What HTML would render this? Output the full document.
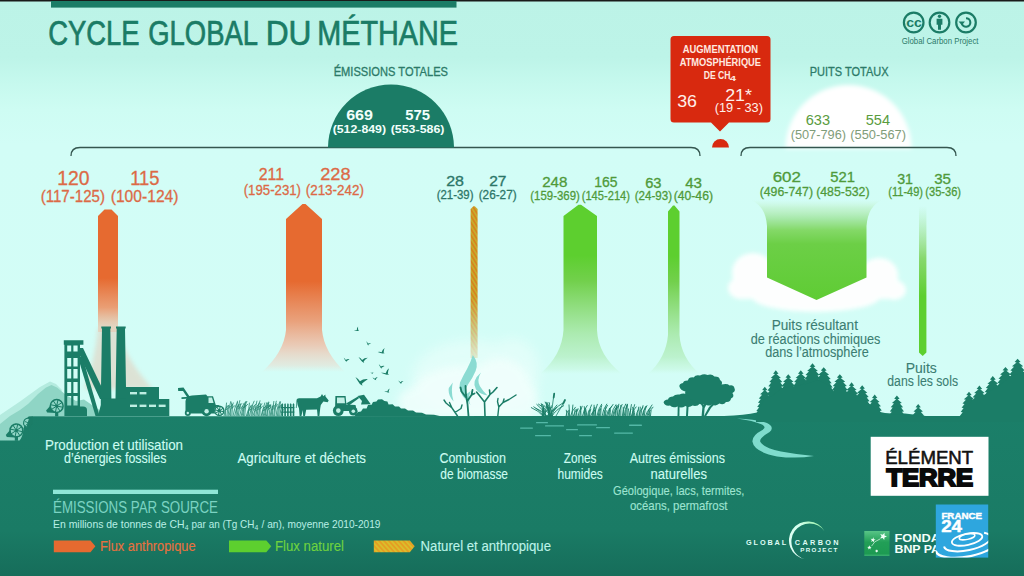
<!DOCTYPE html>
<html><head><meta charset="utf-8"><title>Cycle global du méthane</title>
<style>
html,body{margin:0;padding:0;background:#d2fdf6;}
body{width:1024px;height:576px;overflow:hidden;font-family:"Liberation Sans",sans-serif;}
svg{display:block;font-family:"Liberation Sans",sans-serif;}
</style></head><body>
<svg width="1024" height="576" viewBox="0 0 1024 576">
<defs>
<linearGradient id="sky" x1="0" y1="0" x2="0" y2="1">
<stop offset="0" stop-color="#bcf3e7"/><stop offset="0.1" stop-color="#bdf4e8"/><stop offset="0.145" stop-color="#c6f9ee"/><stop offset="0.19" stop-color="#cefcf3"/><stop offset="0.25" stop-color="#d2fdf6"/><stop offset="1" stop-color="#d4fdf7"/>
</linearGradient>
<linearGradient id="gnd" x1="0" y1="0" x2="0" y2="1">
<stop offset="0" stop-color="#1b7f69"/><stop offset="0.72" stop-color="#1a7b65"/><stop offset="1" stop-color="#166d5a"/>
</linearGradient>
<linearGradient id="og" x1="0" y1="0" x2="0" y2="1">
<stop offset="0" stop-color="#e66a30"/><stop offset="0.56" stop-color="#e66a30"/><stop offset="0.8" stop-color="#ec9466" stop-opacity="0.9"/><stop offset="1" stop-color="#f2b697" stop-opacity="0.35"/>
</linearGradient>
<linearGradient id="og2" x1="0" y1="0" x2="0" y2="1">
<stop offset="0" stop-color="#e66a30"/><stop offset="0.46" stop-color="#e66a30"/><stop offset="0.7" stop-color="#eb9a72" stop-opacity="0.92"/><stop offset="0.84" stop-color="#f0bca4" stop-opacity="0.78"/><stop offset="0.96" stop-color="#f3d0c0" stop-opacity="0.4"/><stop offset="1" stop-color="#f4d8c8" stop-opacity="0"/>
</linearGradient>
<linearGradient id="gg" x1="0" y1="0" x2="0" y2="1">
<stop offset="0" stop-color="#5dcf2f"/><stop offset="0.3" stop-color="#5dcf2f"/><stop offset="0.45" stop-color="#72d04c"/><stop offset="0.6" stop-color="#8cdc78" stop-opacity="0.95"/><stop offset="0.76" stop-color="#a6e8a6" stop-opacity="0.88"/><stop offset="0.9" stop-color="#b4eec0" stop-opacity="0.75"/><stop offset="0.97" stop-color="#c0f4d0" stop-opacity="0.4"/><stop offset="1" stop-color="#c8f8dc" stop-opacity="0"/>
</linearGradient>
<linearGradient id="sinkg" x1="0" y1="0" x2="0" y2="1">
<stop offset="0" stop-color="#c8f4d0" stop-opacity="0"/><stop offset="0.08" stop-color="#bcf0c4" stop-opacity="0.65"/><stop offset="0.2" stop-color="#9ee49a" stop-opacity="0.92"/><stop offset="0.3" stop-color="#84d968"/><stop offset="0.44" stop-color="#6ccf46"/><stop offset="1" stop-color="#5fcc34"/>
</linearGradient>
<linearGradient id="thing" x1="0" y1="0" x2="0" y2="1">
<stop offset="0" stop-color="#9be08a" stop-opacity="0"/><stop offset="0.35" stop-color="#7fd45e" stop-opacity="0.9"/><stop offset="0.6" stop-color="#5dcf2f"/><stop offset="1" stop-color="#5dcf2f"/>
</linearGradient>
<pattern id="stripe" width="4" height="3.4" patternUnits="userSpaceOnUse" patternTransform="rotate(58)">
<rect width="4" height="3.4" fill="#c6ac2e"/><rect width="4" height="1.7" fill="#d6841e"/>
</pattern>
<linearGradient id="strfade" x1="0" y1="0" x2="0" y2="1">
<stop offset="0" stop-color="#fff"/><stop offset="0.62" stop-color="#fff"/><stop offset="1" stop-color="#fff" stop-opacity="0.2"/>
</linearGradient>
<mask id="strmask"><rect x="465" y="200" width="20" height="158" fill="url(#strfade)"/></mask>
<pattern id="stripe2" width="4" height="3.6" patternUnits="userSpaceOnUse" patternTransform="rotate(48)">
<rect width="4" height="3.6" fill="#d9be2c"/><rect width="4" height="1.7" fill="#e69c22"/>
</pattern>
<clipPath id="f24clip"><rect x="935.8" y="504.5" width="52.4" height="53.1"/></clipPath>
<linearGradient id="gcpg" x1="0" y1="1" x2="1" y2="0"><stop offset="0" stop-color="#e6fff8"/><stop offset="0.6" stop-color="#d4ffee"/><stop offset="1" stop-color="#8ef09a"/></linearGradient>
<linearGradient id="bnpg" x1="0" y1="0" x2="0" y2="1"><stop offset="0" stop-color="#58c587"/><stop offset="0.45" stop-color="#229f57"/><stop offset="0.9" stop-color="#1d9a52"/><stop offset="1" stop-color="#3bb070"/></linearGradient>
<filter id="b2"><feGaussianBlur stdDeviation="2"/></filter>
<filter id="b4"><feGaussianBlur stdDeviation="4"/></filter>
<filter id="b6"><feGaussianBlur stdDeviation="6"/></filter>
<filter id="b1"><feGaussianBlur stdDeviation="0.8"/></filter>
</defs>
<rect width="1024" height="576" fill="url(#sky)"/>

<rect x="0" y="0" width="1024" height="1.5" fill="#1a1a1a"/>
<rect x="51" y="1" width="405.5" height="6.6" fill="#1b7c66"/>
<text x="48.2" y="45.4" font-size="35.2" fill="#1b7c66" font-weight="normal" textLength="91.3" lengthAdjust="spacingAndGlyphs" stroke="#1b7c66" stroke-width="0.7">CYCLE</text>
<text x="148.2" y="45.4" font-size="35.2" fill="#1b7c66" font-weight="normal" textLength="109.8" lengthAdjust="spacingAndGlyphs" stroke="#1b7c66" stroke-width="0.7">GLOBAL</text>
<text x="265.7" y="45.4" font-size="35.2" fill="#1b7c66" font-weight="normal" textLength="45.8" lengthAdjust="spacingAndGlyphs" stroke="#1b7c66" stroke-width="0.7">DU</text>
<text x="317.2" y="45.4" font-size="35.2" fill="#1b7c66" font-weight="normal" textLength="140.8" lengthAdjust="spacingAndGlyphs" stroke="#1b7c66" stroke-width="0.7">MÉTHANE</text>
<g filter="url(#b2)"><path d="M785.5 148.5 A63 63.5 0 0 1 911.5 148.5 Z" fill="#ffffff"/></g>
<g filter="url(#b2)" fill="#ffffff" opacity="0.96">
<ellipse cx="753" cy="273" rx="21" ry="20"/><ellipse cx="741" cy="288" rx="13" ry="11"/>
<ellipse cx="816" cy="297" rx="64" ry="15"/><ellipse cx="879" cy="275" rx="19" ry="17"/>
<ellipse cx="894" cy="290" rx="12" ry="10"/><rect x="738" y="275" width="160" height="24"/>
</g>
<g filter="url(#b6)" fill="#f0fffc" opacity="0.5">
<ellipse cx="472" cy="378" rx="60" ry="38"/><ellipse cx="512" cy="372" rx="28" ry="34"/>
</g>
<g filter="url(#b4)" fill="#f3fffd" opacity="0.8">
<ellipse cx="462" cy="392" rx="48" ry="26"/><ellipse cx="500" cy="386" rx="30" ry="28"/><ellipse cx="425" cy="401" rx="27" ry="16"/>
<ellipse cx="523" cy="400" rx="15" ry="18"/><rect x="402" y="400" width="132" height="18"/>
</g>
<g fill="none" stroke="#34564f" stroke-width="1.3">
<path d="M71 156 Q71 147.5 80 147.5 L691 147.5 Q700 147.5 700 156"/>
<path d="M741 156 Q741 147.5 750 147.5 L947 147.5 Q956 147.5 956 156"/>
</g>
<path d="M328 147.5 A63 63 0 0 1 454 147.5 Z" fill="#1b7c66"/>
<text x="333.7" y="76.0" font-size="12.6" fill="#2c7a68" font-weight="normal" textLength="114.3" lengthAdjust="spacingAndGlyphs" stroke="#2c7a68" stroke-width="0.3">ÉMISSIONS TOTALES</text>
<text x="346.2" y="119.5" font-size="14" fill="#f2fffb" font-weight="bold" textLength="26.8" lengthAdjust="spacingAndGlyphs" >669</text>
<text x="332.7" y="133.0" font-size="11.8" fill="#f2fffb" font-weight="bold" textLength="53.3" lengthAdjust="spacingAndGlyphs" >(512-849)</text>
<text x="405.2" y="119.5" font-size="14" fill="#f2fffb" font-weight="bold" textLength="24.8" lengthAdjust="spacingAndGlyphs" >575</text>
<text x="390.7" y="133.0" font-size="11.8" fill="#f2fffb" font-weight="bold" textLength="53.8" lengthAdjust="spacingAndGlyphs" >(553-586)</text>
<path d="M674 36 H767 Q770.5 36 770.5 39.5 V119 Q770.5 122.5 767 122.5 H729 L720 131.5 L711 122.5 H674 Q670.5 122.5 670.5 119 V39.5 Q670.5 36 674 36 Z" fill="#d8290f"/>
<path d="M712 147.5 A8.5 8.5 0 0 1 729 147.5 Z" fill="#d8290f"/>
<text x="682.7" y="52.5" font-size="11" fill="#ffe9e0" font-weight="bold" textLength="75.3" lengthAdjust="spacingAndGlyphs" >AUGMENTATION</text>
<text x="679.7" y="66.0" font-size="11" fill="#ffe9e0" font-weight="bold" textLength="81.3" lengthAdjust="spacingAndGlyphs" >ATMOSPHÉRIQUE</text>
<text x="703.7" y="79.0" font-size="11" fill="#ffe9e0" font-weight="bold" textLength="26.8" lengthAdjust="spacingAndGlyphs" >DE CH</text>
<text x="729.7" y="81.0" font-size="7.5" fill="#ffe9e0" font-weight="bold" textLength="6.3" lengthAdjust="spacingAndGlyphs" >4</text>
<text x="677.2" y="107.0" font-size="17" fill="#fff0ea" font-weight="normal" textLength="19.8" lengthAdjust="spacingAndGlyphs" >36</text>
<text x="725.2" y="100.5" font-size="17" fill="#fff0ea" font-weight="normal" textLength="26.8" lengthAdjust="spacingAndGlyphs" >21*</text>
<text x="714.7" y="112.0" font-size="12" fill="#fff0ea" font-weight="normal" textLength="48.3" lengthAdjust="spacingAndGlyphs" >(19 - 33)</text>
<text x="809.7" y="75.5" font-size="13" fill="#2c7a68" font-weight="normal" textLength="78.8" lengthAdjust="spacingAndGlyphs" stroke="#2c7a68" stroke-width="0.3">PUITS TOTAUX</text>
<text x="805.7" y="125.0" font-size="14" fill="#5a9c3e" font-weight="normal" textLength="24.3" lengthAdjust="spacingAndGlyphs" >633</text>
<text x="790.7" y="138.5" font-size="12.5" fill="#7f9d7a" font-weight="normal" textLength="55.3" lengthAdjust="spacingAndGlyphs" >(507-796)</text>
<text x="865.7" y="125.0" font-size="14" fill="#5a9c3e" font-weight="normal" textLength="24.3" lengthAdjust="spacingAndGlyphs" >554</text>
<text x="850.2" y="138.5" font-size="12.5" fill="#7f9d7a" font-weight="normal" textLength="55.8" lengthAdjust="spacingAndGlyphs" >(550-567)</text>
<g fill="none" stroke="#1b7c66" stroke-width="2.2">
<circle cx="913.7" cy="22.5" r="9.8"/>
<circle cx="939.5" cy="22.5" r="9.8"/>
<circle cx="966" cy="22.5" r="9.8"/>
</g>
<text x="906.2" y="26.5" font-size="12.5" fill="#1b7c66" font-weight="bold" textLength="15.8" lengthAdjust="spacingAndGlyphs" >cc</text>
<circle cx="939.5" cy="16.3" r="1.7" fill="#1b7c66"/><path d="M936.6 18.8 h5.8 v6 h-1.4 v5 h-3 v-5 h-1.4 z" fill="#1b7c66"/>
<path d="M961.8 23.2 A4.3 4.3 0 1 0 966 18.2" fill="none" stroke="#1b7c66" stroke-width="2.1"/><path d="M958.6 21.6 h6.4 l-3.2 3.6 z" fill="#1b7c66"/>
<text x="901.7" y="44.0" font-size="8.6" fill="#2c7a68" font-weight="normal" textLength="76.8" lengthAdjust="spacingAndGlyphs" >Global Carbon Project</text>
<path d="M98 216 L104.5 209.5 L111.5 209.5 L118 216 V332 H98 Z" fill="url(#og)"/>
<path d="M98 328 L118 328 Q124 358 153 389 L84 389 Q95 360 98 328 Z" fill="#eeb095" opacity="0.34" filter="url(#b2)"/>
<path d="M286 219 L302.5 204 L305.5 204 L322 219 V330 Q324 352 345 372 L262 372 Q284 352 286 330 Z" fill="url(#og2)"/>
<g mask="url(#strmask)"><path d="M470.6 209 L473.4 206.2 L474.8 206.2 L477.6 209 V358 H470.6 Z" fill="url(#stripe)"/></g>
<path d="M563.5 216 L578.5 204.7 L581 204.7 L597 216 V330 Q598 355 622 374 L540 374 Q562 355 563.5 330 Z" fill="url(#gg)"/>
<path d="M668 211.5 L673 205.6 L674.5 205.6 L679.5 211.5 V335 Q681 358 700 374 L648 374 Q666 358 668 335 Z" fill="url(#gg)"/>
<path d="M751 200 L882 200 Q868 206 866.5 226 V277.5 L816.5 300 L767 277.5 V226 Q765.5 206 751 200 Z" fill="url(#sinkg)"/>
<path d="M919 206 H926.4 V352.5 L922.7 356 L919 352.5 Z" fill="url(#thing)"/>
<text x="57.2" y="184.5" font-size="19.5" fill="#dc6a46" font-weight="normal" textLength="32.3" lengthAdjust="spacingAndGlyphs" stroke="#dc6a46" stroke-width="0.3">120</text>
<text x="40.7" y="202.0" font-size="16.8" fill="#dc6a46" font-weight="normal" textLength="64.3" lengthAdjust="spacingAndGlyphs" stroke="#dc6a46" stroke-width="0.3">(117-125)</text>
<text x="130.2" y="184.5" font-size="19.5" fill="#dc6a46" font-weight="normal" textLength="29.3" lengthAdjust="spacingAndGlyphs" stroke="#dc6a46" stroke-width="0.3">115</text>
<text x="110.7" y="202.0" font-size="16.8" fill="#dc6a46" font-weight="normal" textLength="67.8" lengthAdjust="spacingAndGlyphs" stroke="#dc6a46" stroke-width="0.3">(100-124)</text>
<text x="258.7" y="180.0" font-size="16.8" fill="#dc6a46" font-weight="normal" textLength="25.3" lengthAdjust="spacingAndGlyphs" stroke="#dc6a46" stroke-width="0.3">211</text>
<text x="243.7" y="195.0" font-size="14.7" fill="#dc6a46" font-weight="normal" textLength="57.3" lengthAdjust="spacingAndGlyphs" stroke="#dc6a46" stroke-width="0.3">(195-231)</text>
<text x="320.2" y="180.0" font-size="16.8" fill="#dc6a46" font-weight="normal" textLength="30.3" lengthAdjust="spacingAndGlyphs" stroke="#dc6a46" stroke-width="0.3">228</text>
<text x="305.7" y="195.0" font-size="14.7" fill="#dc6a46" font-weight="normal" textLength="58.3" lengthAdjust="spacingAndGlyphs" stroke="#dc6a46" stroke-width="0.3">(213-242)</text>
<text x="446.2" y="186.0" font-size="14" fill="#2c7668" font-weight="normal" textLength="17.8" lengthAdjust="spacingAndGlyphs" stroke="#2c7668" stroke-width="0.3">28</text>
<text x="436.7" y="198.5" font-size="12.5" fill="#2c7668" font-weight="normal" textLength="36.8" lengthAdjust="spacingAndGlyphs" stroke="#2c7668" stroke-width="0.3">(21-39)</text>
<text x="489.2" y="186.0" font-size="14" fill="#2c7668" font-weight="normal" textLength="17.3" lengthAdjust="spacingAndGlyphs" stroke="#2c7668" stroke-width="0.3">27</text>
<text x="478.7" y="198.5" font-size="12.5" fill="#2c7668" font-weight="normal" textLength="37.9" lengthAdjust="spacingAndGlyphs" stroke="#2c7668" stroke-width="0.3">(26-27)</text>
<text x="542.2" y="187.0" font-size="14.7" fill="#4f9a3a" font-weight="normal" textLength="25.3" lengthAdjust="spacingAndGlyphs" stroke="#4f9a3a" stroke-width="0.3">248</text>
<text x="530.3" y="199.5" font-size="13" fill="#4f9a3a" font-weight="normal" textLength="49.5" lengthAdjust="spacingAndGlyphs" stroke="#4f9a3a" stroke-width="0.3">(159-369)</text>
<text x="594.2" y="187.0" font-size="14.7" fill="#4f9a3a" font-weight="normal" textLength="23.3" lengthAdjust="spacingAndGlyphs" stroke="#4f9a3a" stroke-width="0.3">165</text>
<text x="581.7" y="199.5" font-size="13" fill="#4f9a3a" font-weight="normal" textLength="48.3" lengthAdjust="spacingAndGlyphs" stroke="#4f9a3a" stroke-width="0.3">(145-214)</text>
<text x="645.2" y="188.0" font-size="14" fill="#4f9a3a" font-weight="normal" textLength="16.3" lengthAdjust="spacingAndGlyphs" stroke="#4f9a3a" stroke-width="0.3">63</text>
<text x="634.7" y="200.0" font-size="12.5" fill="#4f9a3a" font-weight="normal" textLength="37.3" lengthAdjust="spacingAndGlyphs" stroke="#4f9a3a" stroke-width="0.3">(24-93)</text>
<text x="685.2" y="188.0" font-size="14" fill="#4f9a3a" font-weight="normal" textLength="16.8" lengthAdjust="spacingAndGlyphs" stroke="#4f9a3a" stroke-width="0.3">43</text>
<text x="673.7" y="200.0" font-size="12.5" fill="#4f9a3a" font-weight="normal" textLength="39.3" lengthAdjust="spacingAndGlyphs" stroke="#4f9a3a" stroke-width="0.3">(40-46)</text>
<text x="772.7" y="181.6" font-size="15.4" fill="#4f9a3a" font-weight="normal" textLength="28.3" lengthAdjust="spacingAndGlyphs" stroke="#4f9a3a" stroke-width="0.3">602</text>
<text x="759.7" y="195.5" font-size="13.3" fill="#4f9a3a" font-weight="normal" textLength="53.3" lengthAdjust="spacingAndGlyphs" stroke="#4f9a3a" stroke-width="0.3">(496-747)</text>
<text x="830.2" y="181.6" font-size="15.4" fill="#4f9a3a" font-weight="normal" textLength="24.8" lengthAdjust="spacingAndGlyphs" stroke="#4f9a3a" stroke-width="0.3">521</text>
<text x="816.2" y="195.5" font-size="13.3" fill="#4f9a3a" font-weight="normal" textLength="53.3" lengthAdjust="spacingAndGlyphs" stroke="#4f9a3a" stroke-width="0.3">(485-532)</text>
<text x="897.2" y="183.6" font-size="14" fill="#4f9a3a" font-weight="normal" textLength="15.8" lengthAdjust="spacingAndGlyphs" stroke="#4f9a3a" stroke-width="0.3">31</text>
<text x="888.3" y="196.0" font-size="12.5" fill="#4f9a3a" font-weight="normal" textLength="34.7" lengthAdjust="spacingAndGlyphs" stroke="#4f9a3a" stroke-width="0.3">(11-49)</text>
<text x="934.2" y="183.6" font-size="14" fill="#4f9a3a" font-weight="normal" textLength="16.8" lengthAdjust="spacingAndGlyphs" stroke="#4f9a3a" stroke-width="0.3">35</text>
<text x="925.3" y="196.0" font-size="12.5" fill="#4f9a3a" font-weight="normal" textLength="35.7" lengthAdjust="spacingAndGlyphs" stroke="#4f9a3a" stroke-width="0.3">(35-36)</text>
<text x="771.7" y="330.0" font-size="14" fill="#3b7d72" font-weight="normal" textLength="86.3" lengthAdjust="spacingAndGlyphs" stroke="#3b7d72" stroke-width="0.1">Puits résultant</text>
<text x="750.7" y="343.7" font-size="14" fill="#3b7d72" font-weight="normal" textLength="129.7" lengthAdjust="spacingAndGlyphs" stroke="#3b7d72" stroke-width="0.1">de réactions chimiques</text>
<text x="765.2" y="357.0" font-size="14" fill="#3b7d72" font-weight="normal" textLength="103.5" lengthAdjust="spacingAndGlyphs" stroke="#3b7d72" stroke-width="0.1">dans l’atmosphère</text>
<text x="905.7" y="373.0" font-size="14" fill="#3b7d72" font-weight="normal" textLength="31.1" lengthAdjust="spacingAndGlyphs" stroke="#3b7d72" stroke-width="0.1">Puits</text>
<text x="887.3" y="386.2" font-size="14" fill="#3b7d72" font-weight="normal" textLength="70.7" lengthAdjust="spacingAndGlyphs" stroke="#3b7d72" stroke-width="0.1">dans les sols</text>
<path d="M0 415 L20 401.5 L40 387 L50 381.5 L56 384 L62 390 L30 441 L0 441 Z" fill="#b4ebdf"/>
<path d="M0 424 L10 416 L20 410 L28 404 L38 394 L46 387.5 L51.5 385 L57 387.5 L66 395 L76 401 L84 399.5 L92 405 L104 413 L110 416 L30 416 L30 441 L0 441 Z" fill="#8fd5c5"/>
<path d="M0 440.6 L19.5 440.6 Q22 438 23 432 Q25 421 28 417.6 Q29.5 416.2 33 416.2 L724 416 Q745 415 757 412.5 L905 413.5 L926 416 L1024 416 L1024 576 L0 576 Z" fill="url(#gnd)"/>
<path d="M56.2 398.90000000000003 L46.1 410.6 L47.1 412.6 L55.7 413.09999999999997 Z" fill="#1b7d67"/><rect x="55.1" y="412.4" width="3.2" height="4" fill="#1b7d67"/>
<circle cx="56.7" cy="406" r="6.4" fill="#8fd5c5"/><g stroke="#1b7d67" fill="none" stroke-width="1.5"><circle cx="56.7" cy="406" r="6.4"/><line x1="50.4" y1="404.7" x2="63.0" y2="407.3" stroke-width="1"/><line x1="53.2" y1="400.7" x2="60.2" y2="411.3" stroke-width="1"/><line x1="58.0" y1="399.7" x2="55.4" y2="412.3" stroke-width="1"/><line x1="62.0" y1="402.5" x2="51.4" y2="409.5" stroke-width="1"/></g><circle cx="56.7" cy="406" r="1.5" fill="#1b7d67"/>
<path d="M15.899999999999999 423.3 L5.799999999999999 435.0 L6.799999999999999 437.0 L15.399999999999999 437.49999999999994 Z" fill="#1b7d67"/><rect x="14.799999999999999" y="436.79999999999995" width="3.2" height="4" fill="#1b7d67"/>
<circle cx="16.4" cy="430.4" r="6.4" fill="#8fd5c5"/><g stroke="#1b7d67" fill="none" stroke-width="1.5"><circle cx="16.4" cy="430.4" r="6.4"/><line x1="10.1" y1="429.1" x2="22.7" y2="431.7" stroke-width="1"/><line x1="12.9" y1="425.1" x2="19.9" y2="435.7" stroke-width="1"/><line x1="17.7" y1="424.1" x2="15.1" y2="436.7" stroke-width="1"/><line x1="21.7" y1="426.9" x2="11.1" y2="433.9" stroke-width="1"/></g><circle cx="16.4" cy="430.4" r="1.5" fill="#1b7d67"/>
<path d="M28.5 416.5 Q26.5 419 25.4 422 L23.6 429 L28.5 429.5 L33 423 L33 416.5 Z" fill="#1b7d67"/>
<path d="M29.6 418.4 A4.6 4.6 0 0 0 27 427.4 Z" fill="#8fd5c5" stroke="#1b7d67" stroke-width="1.2"/>
<path d="M25 421.5 L28.6 423 M25.4 425.6 L28.6 423" stroke="#1b7d67" stroke-width="0.9" fill="none"/>
<path d="M65 416 V410 Q65 406.5 69 406.5 H83 Q87 406.5 87 410 V416 Z" fill="#1b7d67"/>
<path fill-rule="evenodd" d="M63.8 340.3 H83.4 V344.8 H80 V416 H64.4 V344.8 H63.8 Z M67.2 345.5 V351.5 H71.2 V345.5 Z M73.4 345.5 V351.5 H77.6 V345.5 Z M67.2 358 V366.5 H71.2 V358 Z M73.4 358 V366.5 H77.6 V358 Z M67.2 369 V378.5 H71.2 V369 Z M73.4 369 V378.5 H77.6 V369 Z M67.2 382 V393 H71.2 V382 Z M73.4 382 V393 H77.6 V382 Z M67.2 396 V405.5 H71.2 V396 Z M73.4 396 V405.5 H77.6 V396 Z " fill="#1b7d67"/>
<path d="M80 348 L83 348 L104 392 L104 399 L100 399 L80 356 Z" fill="#1b7d67"/>
<path d="M80 357 L82.5 357 L99 414 L99 416 L95.5 416 L80 364 Z" fill="#1b7d67"/>
<path d="M101.3 326.4 H111 V328.6 H110.3 L111.4 399 H100.8 L102 328.6 H101.3 Z" fill="#1b7d67"/>
<path d="M116 326.4 H125.7 V328.6 H125 L126.2 399 H115.5 L116.7 328.6 H116 Z" fill="#1b7d67"/>
<path d="M100.8 398.5 H126 V387 H159 V399 H169.3 V416 H98 L100.8 405 Z" fill="#1b7d67"/>
<rect x="130" y="392" width="7.0" height="2.4" fill="#bdeee2"/>
<rect x="139.6" y="392" width="6.8" height="2.4" fill="#bdeee2"/>
<rect x="130" y="404.6" width="7.0" height="2.4" fill="#bdeee2"/>
<rect x="139.6" y="404.6" width="6.8" height="2.4" fill="#bdeee2"/>
<rect x="149" y="404.6" width="7.0" height="2.4" fill="#bdeee2"/>
<rect x="158.7" y="404.6" width="6.9" height="2.4" fill="#bdeee2"/>
<g fill="#1b7d67"><path d="M178 388 L183.5 387.6 L190.6 398 L188 398.6 L183 391 L178.2 391 Z"/><path d="M181.5 397.2 L190 396.8 L190 398.6 L181.5 399 Z"/><path d="M185.5 401 Q186 396 192 395.4 L206 394.6 L207.5 396.3 L213 396.3 L215.8 405 L219 405 L220 413.6 L185.5 413.6 Z"/><circle cx="187.8" cy="413" r="3"/><circle cx="206.6" cy="411.3" r="5"/></g>
<path d="M208.5 397.6 L212 397.6 L213.6 403 L208.5 403 Z" fill="#c2f0e6"/>
<circle cx="187.8" cy="413" r="1.2" fill="#c2f0e6"/><circle cx="206.6" cy="411.3" r="2.2" fill="#c2f0e6"/>
<circle cx="219.3" cy="410.8" r="5" fill="#c8f3ea"/>
<g stroke="#1b7d67" fill="none" stroke-width="1.4"><circle cx="219.3" cy="410.8" r="4.6"/><line x1="214.8" y1="409.9" x2="223.8" y2="411.7" stroke-width="1"/><line x1="216.8" y1="407.0" x2="221.8" y2="414.6" stroke-width="1"/><line x1="220.2" y1="406.3" x2="218.4" y2="415.3" stroke-width="1"/><line x1="223.1" y1="408.3" x2="215.5" y2="413.3" stroke-width="1"/></g><circle cx="219.3" cy="410.8" r="1.5" fill="#1b7d67"/>
<g stroke="#1b7d67" stroke-width="0.8" fill="none" opacity="0.92"><path d="M224.0 416 Q225.0 409.6 227.2 405.3"/><path d="M225.6 410.1 L229.2 407.5"/><path d="M225.3 416 Q225.7 408.0 226.6 402.6"/><path d="M226.0 408.6 L228.6 405.3"/><path d="M226.8 416 Q227.4 409.5 228.7 405.2"/><path d="M228.0 416 Q228.9 407.1 230.9 401.1"/><path d="M229.5 407.8 L232.9 404.1"/><path d="M229.0 416 Q230.4 407.9 233.5 402.6"/><path d="M231.3 408.6 L235.5 405.2"/><path d="M230.5 416 Q230.8 407.8 231.7 402.3"/><path d="M231.8 416 Q232.1 409.3 232.9 404.9"/><path d="M233.0 416 Q234.4 407.6 237.5 402.0"/><path d="M234.6 416 Q235.8 408.9 238.8 404.2"/><path d="M236.7 409.5 L240.8 406.6"/><path d="M236.1 416 Q236.5 406.9 237.5 400.8"/><path d="M236.8 407.7 L239.5 403.9"/><path d="M237.2 416 Q238.0 406.5 239.9 400.2"/><path d="M238.5 407.3 L241.9 403.4"/><path d="M238.3 416 Q239.0 408.5 240.8 403.4"/><path d="M239.5 409.1 L242.8 406.0"/><path d="M239.6 416 Q241.0 408.1 244.2 402.9"/><path d="M241.9 408.8 L246.2 405.5"/><path d="M241.1 416 Q242.6 407.0 246.1 401.0"/><path d="M243.6 407.8 L248.1 404.0"/><path d="M242.1 416 Q243.6 407.0 247.0 401.0"/><path d="M243.4 416 Q244.0 407.6 245.3 402.0"/><path d="M244.7 416 Q245.1 409.4 246.0 405.0"/><path d="M246.3 416 Q247.6 410.2 250.5 406.4"/><path d="M248.4 410.7 L252.5 408.3"/><path d="M247.3 416 Q248.6 409.4 251.4 404.9"/><path d="M248.3 416 Q248.6 408.0 249.5 402.7"/><path d="M249.4 416 Q250.9 406.9 254.3 400.8"/><path d="M251.9 407.7 L256.3 403.9"/><path d="M251.0 416 Q251.4 409.3 252.3 404.8"/><path d="M251.7 409.9 L254.3 407.1"/><path d="M251.9 416 Q252.7 409.8 254.6 405.6"/><path d="M253.2 410.3 L256.6 407.7"/><path d="M252.9 416 Q254.3 410.4 257.4 406.7"/><path d="M255.2 410.9 L259.4 408.6"/><path d="M254.5 416 Q255.3 406.8 257.0 400.7"/><path d="M255.8 407.6 L259.0 403.8"/><path d="M255.8 416 Q256.8 407.9 259.2 402.5"/><path d="M257.5 408.6 L261.2 405.2"/><path d="M257.1 416 Q258.0 406.6 260.1 400.4"/><path d="M258.6 407.4 L262.1 403.5"/><path d="M258.5 416 Q259.2 409.6 260.7 405.3"/><path d="M259.8 416 Q260.1 408.3 260.8 403.2"/><path d="M260.3 408.9 L262.8 405.7"/><path d="M261.1 416 Q262.1 410.5 264.5 406.9"/><path d="M262.8 411.0 L266.5 408.7"/><path d="M262.0 416 Q262.9 408.0 264.9 402.6"/><path d="M263.5 408.6 L266.9 405.3"/><path d="M263.2 416 Q264.4 407.6 267.1 402.1"/><path d="M265.1 408.3 L269.1 404.8"/><path d="M264.1 416 Q265.6 407.8 269.0 402.3"/><path d="M266.5 408.4 L271.0 405.0"/><path d="M265.3 416 Q266.0 408.1 267.6 402.9"/><path d="M266.5 408.8 L269.6 405.5"/><path d="M266.4 416 Q267.5 409.0 269.8 404.4"/><path d="M268.1 409.6 L271.8 406.7"/><path d="M267.6 416 Q267.9 407.4 268.7 401.6"/><path d="M268.2 408.1 L270.7 404.5"/><path d="M269.0 416 Q269.6 409.3 270.9 404.8"/><path d="M270.1 416 Q270.9 409.8 272.8 405.7"/><path d="M271.5 410.3 L274.8 407.8"/><path d="M271.1 416 Q271.8 409.2 273.4 404.7"/><path d="M272.3 416 Q272.8 407.0 273.9 401.0"/><path d="M273.1 407.8 L275.9 404.0"/><path d="M273.6 416 Q274.5 406.9 276.4 400.8"/><path d="M275.0 407.6 L278.4 403.8"/><path d="M274.6 416 Q275.1 408.4 276.4 403.3"/><path d="M276.1 416 Q276.7 409.8 278.2 405.7"/><path d="M277.4 416 Q278.2 407.2 279.8 401.4"/><path d="M278.6 407.9 L281.8 404.3"/><path d="M278.6 416 Q279.2 407.3 280.6 401.4"/><path d="M279.6 408.0 L282.6 404.4"/><path d="M279.7 416 Q280.5 408.8 282.4 404.1"/><path d="M280.8 416 Q282.2 410.6 285.5 407.0"/></g>
<g fill="#1b7d67"><path d="M281.5 416 V404.5 L282.3 403 L283.1 404.5 V416 Z"/><path d="M284.3 416 V404.5 L285.1 403 L285.90000000000003 404.5 V416 Z"/><path d="M287.1 416 V404.5 L287.90000000000003 403 L288.70000000000005 404.5 V416 Z"/><path d="M289.9 416 V404.5 L290.7 403 L291.5 404.5 V416 Z"/><path d="M292.7 416 V404.5 L293.5 403 L294.3 404.5 V416 Z"/><rect x="280.7" y="407" width="13.6" height="1.2"/><rect x="280.7" y="411.5" width="13.6" height="1.2"/></g>
<path fill="#1b7d67" d="M296.6 399.8 Q296.8 398.3 299 398.3 L317 398.2 L320.6 396.6 L322 394 L323.3 396.2 L325.3 394.4 L325.5 396.6 L328.7 400.6 L327.6 402.2 L323.4 401.6 L320.8 405 L320.2 408.4 L319.4 416 L317.6 416 L317 409.4 L306.2 409.8 L305 416 L303.2 416 L302.8 410 L301.4 416 L299.6 416 L299 408.5 Q297.2 405 297 401.5 L296.6 408 L295.8 408 Z"/>
<g fill="#1b7d67"><path d="M335.4 396 H345.6 L346.4 404.4 L355.5 405 L357 411 H335 Z"/><circle cx="338.3" cy="410.6" r="5.4"/><circle cx="353.3" cy="411.3" r="4.3"/><path d="M346 403.5 L358 396.6 L359.2 398 L349 405.5 Z"/><path d="M357.6 396 L364 394.8 L370.8 404.2 L361 404.6 L362 401 Z"/></g>
<path d="M337 397.5 H344.4 L345 403.3 H337 Z" fill="#c2f0e6"/>
<circle cx="338.3" cy="410.6" r="2.3" fill="#c2f0e6"/><circle cx="353.3" cy="411.3" r="1.8" fill="#c2f0e6"/>
<path fill="#1b7d67" d="M354 416.5 L358 412 L361 411.6 L363 408.6 L366.6 408.4 L368 405 L371.6 404.8 L373 402 L376.4 401.6 L378 399.4 L382 399.2 L384.4 401 L387.4 401.6 L388.6 404.4 L392.6 404.2 L395 406.6 L399 406.4 L401 408.6 L405 408.4 L408 410.6 L413 410.6 L416 412.6 L422 412.8 L426 414.4 L434 414.8 L442 416.5 Z"/>
<path transform="translate(357,330) rotate(-40) scale(0.9)" fill="#1b7d67" d="M-3.2 -1.6 Q-1.4 -1.2 -0.3 0 Q1 -1.8 3.4 -2.2 Q1.8 -0.6 1 1 L1.6 1.9 L0 1.3 Q-1.2 0.4 -3.2 -1.6 Z"/>
<path transform="translate(368,343.7) rotate(30) scale(0.8)" fill="#1b7d67" d="M-3.2 -1.6 Q-1.4 -1.2 -0.3 0 Q1 -1.8 3.4 -2.2 Q1.8 -0.6 1 1 L1.6 1.9 L0 1.3 Q-1.2 0.4 -3.2 -1.6 Z"/>
<path transform="translate(382,352) rotate(-25) scale(1.2)" fill="#1b7d67" d="M-3.2 -1.6 Q-1.4 -1.2 -0.3 0 Q1 -1.8 3.4 -2.2 Q1.8 -0.6 1 1 L1.6 1.9 L0 1.3 Q-1.2 0.4 -3.2 -1.6 Z"/>
<path transform="translate(346,360) rotate(20) scale(0.9)" fill="#1b7d67" d="M-3.2 -1.6 Q-1.4 -1.2 -0.3 0 Q1 -1.8 3.4 -2.2 Q1.8 -0.6 1 1 L1.6 1.9 L0 1.3 Q-1.2 0.4 -3.2 -1.6 Z"/>
<path transform="translate(362.5,360) rotate(10) scale(1.4)" fill="#1b7d67" d="M-3.2 -1.6 Q-1.4 -1.2 -0.3 0 Q1 -1.8 3.4 -2.2 Q1.8 -0.6 1 1 L1.6 1.9 L0 1.3 Q-1.2 0.4 -3.2 -1.6 Z"/>
<path transform="translate(381,366.7) rotate(20) scale(0.9)" fill="#1b7d67" d="M-3.2 -1.6 Q-1.4 -1.2 -0.3 0 Q1 -1.8 3.4 -2.2 Q1.8 -0.6 1 1 L1.6 1.9 L0 1.3 Q-1.2 0.4 -3.2 -1.6 Z"/>
<path transform="translate(386,373) rotate(-25) scale(1.4)" fill="#1b7d67" d="M-3.2 -1.6 Q-1.4 -1.2 -0.3 0 Q1 -1.8 3.4 -2.2 Q1.8 -0.6 1 1 L1.6 1.9 L0 1.3 Q-1.2 0.4 -3.2 -1.6 Z"/>
<path transform="translate(375,378.7) rotate(0) scale(0.8)" fill="#1b7d67" d="M-3.2 -1.6 Q-1.4 -1.2 -0.3 0 Q1 -1.8 3.4 -2.2 Q1.8 -0.6 1 1 L1.6 1.9 L0 1.3 Q-1.2 0.4 -3.2 -1.6 Z"/>
<path transform="translate(360.5,381.5) rotate(15) scale(1.9)" fill="#1b7d67" d="M-3.2 -1.6 Q-1.4 -1.2 -0.3 0 Q1 -1.8 3.4 -2.2 Q1.8 -0.6 1 1 L1.6 1.9 L0 1.3 Q-1.2 0.4 -3.2 -1.6 Z"/>
<path transform="translate(400.5,382.3) rotate(10) scale(0.8)" fill="#1b7d67" d="M-3.2 -1.6 Q-1.4 -1.2 -0.3 0 Q1 -1.8 3.4 -2.2 Q1.8 -0.6 1 1 L1.6 1.9 L0 1.3 Q-1.2 0.4 -3.2 -1.6 Z"/>
<path transform="translate(387.5,391.3) rotate(-20) scale(0.9)" fill="#1b7d67" d="M-3.2 -1.6 Q-1.4 -1.2 -0.3 0 Q1 -1.8 3.4 -2.2 Q1.8 -0.6 1 1 L1.6 1.9 L0 1.3 Q-1.2 0.4 -3.2 -1.6 Z"/>
<path transform="translate(372,373) rotate(0) scale(0.5)" fill="#1b7d67" d="M-3.2 -1.6 Q-1.4 -1.2 -0.3 0 Q1 -1.8 3.4 -2.2 Q1.8 -0.6 1 1 L1.6 1.9 L0 1.3 Q-1.2 0.4 -3.2 -1.6 Z"/>
<g fill="#86dad0" opacity="0.95"><path d="M472.8 355 Q479 362.6 475.6 371 Q472.4 378.6 468 384.6 Q463.6 391 466 400 Q457.6 391.6 460 382.6 Q463.4 375 467 369 Q470.6 362.6 472.8 355 Z"/><path d="M481 372.6 Q476.6 380 479.8 386 Q482.8 391 487.6 395.6 Q480.4 394.4 476 389.4 Q471 381 481 372.6 Z"/><path d="M452.8 382.6 Q450.6 392 453.6 401.6 Q447.6 395 448.8 388 Z"/><path d="M470.6 391 Q468 398 470.4 405 Q465.4 399 466.6 394 Z"/></g>
<g stroke="#1b7d67" fill="none" stroke-linecap="round" stroke-linejoin="round"><path stroke-width="1.4" d="M457.5 416 L452 408 L446 403 L444 400 M452 408 L449.5 402.5 M455 412.5 L461 408.5 L462 405"/><path stroke-width="1.8" d="M468.5 416 L467.5 404 L466 395 L465.5 386 M466.5 398 L461.5 391.5 L460.5 387.5 M467 401.5 L471.5 395 L472.5 390 M471.5 395 L474.5 393.5"/><path stroke-width="1.6" d="M485 416 L484.5 402 L479 395 L476.5 392 M484.5 402 L490 394.5 L493 392 L497 387.5 M490 394.5 L489.5 390"/><path stroke-width="1.4" d="M497.8 416 L498.8 407 L503 402.5 L509 399.5 L516 395 M498.8 407 L497.5 401.5 L498 398.5 M503 402.5 L504 399"/></g>
<g stroke="#1b7d67" fill="none" stroke-linecap="round"><path stroke-width="0.9" d="M545.9 416 Q543.1 409.1 536.8 404.4"/><path stroke-width="0.9" d="M542.9 416 Q543.2 410.3 543.8 406.4"/><path stroke-width="0.9" d="M542.7 416 Q542.8 411.6 542.9 408.7"/><path stroke-width="0.9" d="M547.2 416 Q543.8 411.4 536.0 408.4"/><path stroke-width="0.9" d="M547.1 416 Q549.7 411.3 555.6 408.1"/><path stroke-width="0.9" d="M544.7 416 Q545.7 407.8 548.0 402.4"/><path stroke-width="0.9" d="M548.9 416 Q548.1 407.7 546.2 402.2"/><path stroke-width="0.9" d="M542.6 416 Q545.4 410.6 551.9 407.0"/><path stroke-width="0.9" d="M543.7 416 Q540.7 410.5 533.8 406.8"/><path stroke-width="0.9" d="M551.8 416 Q549.2 409.4 543.5 404.9"/><path stroke-width="0.9" d="M549.7 416 Q548.6 409.5 546.3 405.2"/><path stroke-width="0.9" d="M542.8 416 Q539.2 410.9 531.3 407.6"/><path stroke-width="0.9" d="M550.2 416 Q549.6 410.5 548.3 406.8"/><path stroke-width="0.9" d="M549.0 416 Q548.7 410.5 547.8 406.9"/><path stroke-width="0.9" d="M551.5 416 Q553.1 410.8 556.7 407.3"/><path stroke-width="0.9" d="M548.9 416 Q549.1 408.1 549.5 402.9"/><path stroke-width="0.9" d="M550.8 416 Q549.1 407.7 545.2 402.1"/><path stroke-width="0.9" d="M543.4 416 Q542.8 408.6 541.3 403.7"/><path stroke-width="0.9" d="M543.8 416 Q543.7 411.6 543.5 408.7"/><path stroke-width="0.9" d="M550.0 416 Q552.1 409.4 556.9 405.0"/><path stroke-width="0.9" d="M552.5 416 Q551.0 408.9 547.7 404.1"/><path stroke-width="0.9" d="M549.1 416 Q549.8 409.9 551.2 405.8"/><path stroke-width="0.9" d="M552.1 416 Q555.6 409.8 563.6 405.7"/><path stroke-width="0.9" d="M550.0 416 Q546.5 408.9 538.5 404.1"/><path stroke-width="0.9" d="M549.8 416 Q553.7 408.3 562.6 403.2"/><path stroke-width="0.9" d="M545.4 416 Q544.5 409.0 542.4 404.3"/><path stroke-width="0.8" d="M551 416 L553.6 397"/><path stroke-width="0.8" d="M556 416 L563.5 403"/><path stroke-width="1.8" d="M553.7 397.5 L554.2 393.6"/><path stroke-width="1.8" d="M563.2 403.6 L565 400"/><path stroke-width="0.9" d="M566.0 416 Q566.4 412.9 568.0 410.8"/><path stroke-width="0.9" d="M566.9 416 Q566.8 412.5 566.3 410.2"/><path stroke-width="0.9" d="M568.3 416 Q568.5 412.5 569.0 410.1"/><path stroke-width="0.9" d="M569.5 416 Q569.4 409.3 569.0 404.9"/><path stroke-width="0.9" d="M570.6 416 Q571.6 410.7 575.4 407.2"/><path stroke-width="0.9" d="M572.1 416 Q572.2 409.4 572.9 405.0"/><path stroke-width="0.9" d="M573.2 416 Q574.2 411.5 578.0 408.5"/><path stroke-width="0.9" d="M574.8 416 Q574.8 412.4 574.9 409.9"/><path stroke-width="0.9" d="M575.8 416 Q576.2 412.0 577.9 409.4"/><path stroke-width="0.9" d="M577.0 416 Q576.8 411.9 576.1 409.2"/><path stroke-width="0.9" d="M578.2 416 Q578.7 411.4 580.8 408.4"/><path stroke-width="0.9" d="M579.7 416 Q580.2 410.1 582.1 406.2"/><path stroke-width="0.9" d="M581.0 416 Q580.9 410.2 580.4 406.3"/><path stroke-width="0.9" d="M582.5 416 Q583.5 409.7 587.2 405.5"/><path stroke-width="0.9" d="M584.0 416 Q584.3 411.4 585.6 408.3"/><path stroke-width="0.9" d="M584.9 416 Q584.7 410.3 584.3 406.6"/><path stroke-width="0.9" d="M585.7 416 Q585.7 412.1 585.8 409.5"/><path stroke-width="0.9" d="M586.8 416 Q586.6 412.8 585.8 410.6"/><path stroke-width="0.9" d="M587.7 416 Q588.0 412.6 589.1 410.3"/><path stroke-width="0.9" d="M588.5 416 Q589.1 409.3 591.5 404.9"/><path stroke-width="0.9" d="M589.5 416 Q589.7 411.9 590.7 409.2"/><path stroke-width="0.9" d="M590.5 416 Q591.4 412.5 595.1 410.1"/><path stroke-width="0.9" d="M592.1 416 Q592.6 411.0 594.3 407.7"/><path stroke-width="0.9" d="M593.0 416 Q593.3 412.6 594.2 410.3"/><path stroke-width="0.9" d="M594.0 416 Q594.0 409.5 594.1 405.2"/><path stroke-width="0.9" d="M594.8 416 Q595.3 409.0 597.3 404.3"/><path stroke-width="0.9" d="M595.8 416 Q595.6 410.7 594.9 407.2"/><path stroke-width="0.9" d="M597.0 416 Q597.9 408.9 601.6 404.2"/><path stroke-width="0.9" d="M598.3 416 Q598.6 411.9 599.7 409.2"/><path stroke-width="0.9" d="M599.3 416 Q599.8 409.8 601.7 405.6"/><path stroke-width="0.9" d="M600.7 416 Q600.8 411.6 601.1 408.7"/><path stroke-width="0.9" d="M602.1 416 Q603.0 408.9 606.7 404.1"/><path stroke-width="0.9" d="M603.6 416 Q604.3 409.6 607.4 405.3"/><path stroke-width="0.9" d="M604.6 416 Q604.8 410.8 605.9 407.4"/><path stroke-width="0.9" d="M605.4 416 Q605.6 412.9 606.2 410.8"/><path stroke-width="0.9" d="M606.4 416 Q607.4 410.1 611.6 406.2"/><path stroke-width="0.9" d="M607.6 416 Q608.6 409.1 613.0 404.4"/><path stroke-width="0.9" d="M609.1 416 Q609.2 411.5 609.5 408.4"/><path stroke-width="0.9" d="M610.1 416 Q610.2 412.2 610.4 409.6"/><path stroke-width="0.9" d="M611.4 416 Q612.3 409.2 615.9 404.7"/><path stroke-width="0.9" d="M612.6 416 Q613.4 410.3 616.8 406.4"/><path stroke-width="0.9" d="M613.4 416 Q614.4 410.2 618.4 406.4"/><path stroke-width="0.9" d="M614.9 416 Q615.3 409.8 617.0 405.7"/><path stroke-width="0.9" d="M615.8 416 Q616.0 409.7 617.0 405.5"/><path stroke-width="0.9" d="M617.3 416 Q617.6 408.9 618.8 404.2"/><path stroke-width="0.9" d="M618.4 416 Q619.1 409.0 622.1 404.4"/><path stroke-width="0.9" d="M619.3 416 Q619.3 412.5 619.3 410.1"/><path stroke-width="0.9" d="M620.8 416 Q620.8 409.6 620.8 405.4"/><path stroke-width="0.9" d="M622.3 416 Q623.0 408.9 625.6 404.1"/><path stroke-width="0.9" d="M623.4 416 Q623.4 410.7 623.2 407.2"/><path stroke-width="0.9" d="M624.2 416 Q624.8 408.9 627.4 404.2"/><path stroke-width="0.9" d="M625.4 416 Q625.8 409.1 627.2 404.5"/><path stroke-width="0.9" d="M626.9 416 Q627.0 409.5 627.3 405.2"/><path stroke-width="0.9" d="M627.9 416 Q628.0 411.8 628.5 408.9"/><path stroke-width="0.9" d="M629.2 416 Q629.5 411.9 630.9 409.2"/><path stroke-width="0.9" d="M630.1 416 Q630.3 409.2 631.4 404.6"/><path stroke-width="0.9" d="M631.3 416 Q632.2 410.5 636.1 406.9"/><path stroke-width="0.9" d="M632.4 416 Q632.8 409.1 634.6 404.6"/><path stroke-width="0.9" d="M633.6 416 Q633.4 410.8 632.7 407.3"/><path stroke-width="0.9" d="M634.8 416 Q634.6 412.2 633.8 409.7"/><path stroke-width="0.9" d="M636.2 416 Q636.6 412.3 638.3 409.8"/><path stroke-width="0.9" d="M637.6 416 Q637.8 410.7 638.7 407.1"/><path stroke-width="0.9" d="M638.8 416 Q639.6 410.7 642.9 407.1"/><path stroke-width="0.9" d="M639.7 416 Q639.8 410.6 640.3 407.1"/><path stroke-width="0.9" d="M640.7 416 Q641.2 409.8 643.0 405.6"/><path stroke-width="0.9" d="M642.0 416 Q642.9 409.8 646.9 405.7"/><path stroke-width="0.9" d="M643.1 416 Q643.6 410.4 645.4 406.7"/><path stroke-width="0.9" d="M644.3 416 Q644.7 410.1 646.3 406.2"/><path stroke-width="0.9" d="M645.5 416 Q646.6 411.0 650.7 407.7"/><path stroke-width="0.9" d="M646.9 416 Q647.9 409.3 652.0 404.9"/><path stroke-width="0.9" d="M647.9 416 Q648.9 410.7 653.0 407.1"/><path stroke-width="0.9" d="M649.4 416 Q649.3 412.4 649.2 410.0"/><path stroke-width="0.9" d="M650.5 416 Q650.7 412.7 651.1 410.5"/></g>
<g fill="#5fc3b2" opacity="0.85"><rect x="536" y="422" width="12" height="1.3" rx="0.6"/><rect x="545" y="425.2" width="19" height="1.3" rx="0.6"/><rect x="577" y="424.2" width="20" height="1.3" rx="0.6"/><rect x="596" y="427" width="14" height="1.3" rx="0.6"/><rect x="629" y="424.6" width="13" height="1.3" rx="0.6"/><rect x="520" y="427.4" width="13" height="1.3" rx="0.6"/><rect x="535" y="435" width="16" height="1.3" rx="0.6"/><rect x="579" y="435" width="13" height="1.3" rx="0.6"/><rect x="614" y="432.4" width="19" height="1.3" rx="0.6"/><rect x="566" y="429" width="12" height="1.3" rx="0.6"/></g>
<g fill="#1b7d67"><path d="M677.5 416 L677.8 404 L679.6 404 L679.4 416 Z"/><path d="M686 416 L686.6 405 L684 401 L685.5 400.4 L687.6 403.6 L690 399.5 L691.4 400.3 L688.6 405.6 L688 416 Z"/><path d="M701.6 416 L702.4 407 L699 400 L700.6 399.4 L703.6 405 L706 401 L710.5 396.6 L712 398 L707.5 402.6 L704.6 408 L704 416 Z"/><path d="M704 416 L709 407 L714 402 L715.6 403.2 L711 408 L706.2 416 Z"/><path d="M663.6 402.6 Q664 399.6 668 399.4 Q669 396.6 673 396.6 Q675 394 679.5 394.6 Q683 392.6 686 394 Q692 392.6 695 395 Q700 395 700.5 398.5 Q703 401 700 403.5 Q697 407 692.5 405.6 Q689 408 685.5 406 Q681 408.8 677.6 406.4 Q672.6 408.6 670 405.6 Q664.6 406.4 663.6 402.6 Z"/><path d="M679.4 386.6 Q679 383.6 683 383 Q684 380.4 688 380.6 Q688.5 377 693.5 377.4 Q696 374.4 700 375.6 Q704 373.4 707.5 375 Q712 373.6 714.4 376.6 Q719.5 376.4 720 380 Q723 381.6 721.6 384.6 Q727 383 729.6 385.4 Q733.6 384.6 734.4 388 Q736 391.4 732.4 393 Q735 396.6 731 398.6 Q730.6 402.4 726 402 Q723.6 405.6 719.4 403.6 Q716 406.8 712 404.4 Q708.4 407 705 404 Q700.6 406 698 402.6 Q693.6 403.6 692.4 399.6 Q688 399.6 688.4 395.6 Q684 395 685.4 391.4 Q680.4 390.6 679.4 386.6 Z"/></g>
<path d="M737 418.4 Q757 419.4 767 423 Q775 427 769.6 432 Q758.6 438.4 760.4 442 Q764 448 781 451.4 Q797 454.4 814 456 Q796 459 777 456.4 Q754 452 752.4 441.6 Q752 435.4 762.4 430 Q767 427 762 424.4 Q753 420.6 737 418.4 Z" fill="#7fdccd"/>
<g fill="#1b7d67"><path d="M764.8 386.7 L767.4 390.1 L765.4 390.5 L769.5 394.3 L767.5 394.7 L770.8 398.5 L768.8 398.9 L771.6 402.7 L769.6 403.1 L772.4 406.9 L770.4 407.3 L773.3 411.1 L771.3 411.5 L774.1 415.3 L772.1 415.7 L775.0 419.5 L773.0 419.9 L775.2 420.0 L754.4 420.0 L756.6 419.9 L754.6 419.5 L757.5 415.7 L755.5 415.3 L758.3 411.5 L756.3 411.1 L759.2 407.3 L757.2 406.9 L760.0 403.1 L758.0 402.7 L760.8 398.9 L758.8 398.5 L762.1 394.7 L760.1 394.3 L764.2 390.5 L762.2 390.1 Z"/><path d="M775.8 370.3 L778.5 373.7 L776.5 374.1 L780.9 377.9 L778.9 378.3 L782.3 382.1 L780.3 382.5 L783.2 386.3 L781.2 386.7 L784.1 390.5 L782.1 390.9 L785.0 394.7 L783.0 395.1 L786.0 398.9 L784.0 399.3 L786.9 403.1 L784.9 403.5 L787.8 407.3 L785.8 407.7 L788.7 411.5 L786.7 411.9 L789.6 415.7 L787.6 416.1 L790.6 419.9 L788.6 420.3 L790.7 420.0 L760.9 420.0 L763.0 420.3 L761.0 419.9 L764.0 416.1 L762.0 415.7 L764.9 411.9 L762.9 411.5 L765.8 407.7 L763.8 407.3 L766.7 403.5 L764.7 403.1 L767.6 399.3 L765.6 398.9 L768.6 395.1 L766.6 394.7 L769.5 390.9 L767.5 390.5 L770.4 386.7 L768.4 386.3 L771.3 382.5 L769.3 382.1 L772.7 378.3 L770.7 377.9 L775.1 374.1 L773.1 373.7 Z"/><path d="M788.3 374.2 L791.1 377.6 L789.1 378.0 L793.5 381.8 L791.5 382.2 L795.0 386.0 L793.0 386.4 L796.0 390.2 L794.0 390.6 L796.9 394.4 L794.9 394.8 L797.9 398.6 L795.9 399.0 L798.9 402.8 L796.9 403.2 L799.8 407.0 L797.8 407.4 L800.8 411.2 L798.8 411.6 L801.8 415.4 L799.8 415.8 L802.7 419.6 L800.7 420.0 L802.9 420.0 L773.7 420.0 L775.9 420.0 L773.9 419.6 L776.8 415.8 L774.8 415.4 L777.8 411.6 L775.8 411.2 L778.8 407.4 L776.8 407.0 L779.7 403.2 L777.7 402.8 L780.7 399.0 L778.7 398.6 L781.7 394.8 L779.7 394.4 L782.6 390.6 L780.6 390.2 L783.6 386.4 L781.6 386.0 L785.1 382.2 L783.1 381.8 L787.5 378.0 L785.5 377.6 Z"/><path d="M800.8 370.3 L803.6 373.7 L801.6 374.1 L806.0 377.9 L804.0 378.3 L807.5 382.1 L805.5 382.5 L808.5 386.3 L806.5 386.7 L809.4 390.5 L807.4 390.9 L810.4 394.7 L808.4 395.1 L811.4 398.9 L809.4 399.3 L812.3 403.1 L810.3 403.5 L813.3 407.3 L811.3 407.7 L814.3 411.5 L812.3 411.9 L815.2 415.7 L813.2 416.1 L816.2 419.9 L814.2 420.3 L816.3 420.0 L785.3 420.0 L787.4 420.3 L785.4 419.9 L788.4 416.1 L786.4 415.7 L789.3 411.9 L787.3 411.5 L790.3 407.7 L788.3 407.3 L791.3 403.5 L789.3 403.1 L792.2 399.3 L790.2 398.9 L793.2 395.1 L791.2 394.7 L794.2 390.9 L792.2 390.5 L795.1 386.7 L793.1 386.3 L796.1 382.5 L794.1 382.1 L797.6 378.3 L795.6 377.9 L800.0 374.1 L798.0 373.7 Z"/><path d="M812.5 363.3 L815.4 366.7 L813.4 367.1 L817.9 370.9 L815.9 371.3 L819.5 375.1 L817.5 375.5 L820.5 379.3 L818.5 379.7 L821.5 383.5 L819.5 383.9 L822.5 387.7 L820.5 388.1 L823.5 391.9 L821.5 392.3 L824.5 396.1 L822.5 396.5 L825.5 400.3 L823.5 400.7 L826.5 404.5 L824.5 404.9 L827.5 408.7 L825.5 409.1 L828.5 412.9 L826.5 413.3 L829.5 417.1 L827.5 417.5 L830.3 420.0 L794.7 420.0 L797.5 417.5 L795.5 417.1 L798.5 413.3 L796.5 412.9 L799.5 409.1 L797.5 408.7 L800.5 404.9 L798.5 404.5 L801.5 400.7 L799.5 400.3 L802.5 396.5 L800.5 396.1 L803.5 392.3 L801.5 391.9 L804.5 388.1 L802.5 387.7 L805.5 383.9 L803.5 383.5 L806.5 379.7 L804.5 379.3 L807.5 375.5 L805.5 375.1 L809.1 371.3 L807.1 370.9 L811.6 367.1 L809.6 366.7 Z"/><path d="M823.7 367.2 L826.6 370.6 L824.6 371.0 L829.1 374.8 L827.1 375.2 L830.7 379.0 L828.7 379.4 L831.7 383.2 L829.7 383.6 L832.7 387.4 L830.7 387.8 L833.7 391.6 L831.7 392.0 L834.7 395.8 L832.7 396.2 L835.7 400.0 L833.7 400.4 L836.7 404.2 L834.7 404.6 L837.7 408.4 L835.7 408.8 L838.7 412.6 L836.7 413.0 L839.7 416.8 L837.7 417.2 L840.6 420.0 L806.8 420.0 L809.7 417.2 L807.7 416.8 L810.7 413.0 L808.7 412.6 L811.7 408.8 L809.7 408.4 L812.7 404.6 L810.7 404.2 L813.7 400.4 L811.7 400.0 L814.7 396.2 L812.7 395.8 L815.7 392.0 L813.7 391.6 L816.7 387.8 L814.7 387.4 L817.7 383.6 L815.7 383.2 L818.7 379.4 L816.7 379.0 L820.3 375.2 L818.3 374.8 L822.8 371.0 L820.8 370.6 Z"/><path d="M839.8 374.2 L842.7 377.6 L840.7 378.0 L845.2 381.8 L843.2 382.2 L846.8 386.0 L844.8 386.4 L847.8 390.2 L845.8 390.6 L848.8 394.4 L846.8 394.8 L849.8 398.6 L847.8 399.0 L850.8 402.8 L848.8 403.2 L851.8 407.0 L849.8 407.4 L852.8 411.2 L850.8 411.6 L853.8 415.4 L851.8 415.8 L854.8 419.6 L852.8 420.0 L855.0 420.0 L824.6 420.0 L826.8 420.0 L824.8 419.6 L827.8 415.8 L825.8 415.4 L828.8 411.6 L826.8 411.2 L829.8 407.4 L827.8 407.0 L830.8 403.2 L828.8 402.8 L831.8 399.0 L829.8 398.6 L832.8 394.8 L830.8 394.4 L833.8 390.6 L831.8 390.2 L834.8 386.4 L832.8 386.0 L836.4 382.2 L834.4 381.8 L838.9 378.0 L836.9 377.6 Z"/><path d="M851.6 382.3 L854.3 385.7 L852.3 386.1 L856.7 389.9 L854.7 390.3 L858.1 394.1 L856.1 394.5 L859.0 398.3 L857.0 398.7 L859.9 402.5 L857.9 402.9 L860.8 406.7 L858.8 407.1 L861.8 410.9 L859.8 411.3 L862.7 415.1 L860.7 415.5 L863.6 419.3 L861.6 419.7 L863.9 420.0 L839.3 420.0 L841.6 419.7 L839.6 419.3 L842.5 415.5 L840.5 415.1 L843.4 411.3 L841.4 410.9 L844.4 407.1 L842.4 406.7 L845.3 402.9 L843.3 402.5 L846.2 398.7 L844.2 398.3 L847.1 394.5 L845.1 394.1 L848.5 390.3 L846.5 389.9 L850.9 386.1 L848.9 385.7 Z"/><path d="M862.2 385.2 L864.9 388.6 L862.9 389.0 L867.3 392.8 L865.3 393.2 L868.7 397.0 L866.7 397.4 L869.6 401.2 L867.6 401.6 L870.5 405.4 L868.5 405.8 L871.4 409.6 L869.4 410.0 L872.4 413.8 L870.4 414.2 L873.3 418.0 L871.3 418.4 L873.8 420.0 L850.6 420.0 L853.1 418.4 L851.1 418.0 L854.0 414.2 L852.0 413.8 L855.0 410.0 L853.0 409.6 L855.9 405.8 L853.9 405.4 L856.8 401.6 L854.8 401.2 L857.7 397.4 L855.7 397.0 L859.1 393.2 L857.1 392.8 L861.5 389.0 L859.5 388.6 Z"/><path d="M874.7 394.5 L877.4 397.9 L875.4 398.3 L879.6 402.1 L877.6 402.5 L880.9 406.3 L878.9 406.7 L881.8 410.5 L879.8 410.9 L882.7 414.7 L880.7 415.1 L883.6 418.9 L881.6 419.3 L883.9 420.0 L865.5 420.0 L867.8 419.3 L865.8 418.9 L868.7 415.1 L866.7 414.7 L869.6 410.9 L867.6 410.5 L870.5 406.7 L868.5 406.3 L871.8 402.5 L869.8 402.1 L874.0 398.3 L872.0 397.9 Z"/><path d="M896.9 395.4 L899.6 398.8 L897.6 399.2 L901.8 403.0 L899.8 403.4 L903.1 407.2 L901.1 407.6 L904.0 411.4 L902.0 411.8 L904.9 415.6 L902.9 416.0 L905.8 419.8 L903.8 420.2 L905.9 420.0 L887.9 420.0 L890.0 420.2 L888.0 419.8 L890.9 416.0 L888.9 415.6 L891.8 411.8 L889.8 411.4 L892.7 407.6 L890.7 407.2 L894.0 403.4 L892.0 403.0 L896.2 399.2 L894.2 398.8 Z"/><path d="M918.2 403.9 L920.8 407.3 L918.8 407.7 L922.9 411.5 L920.9 411.9 L924.2 415.7 L922.2 416.1 L925.0 419.9 L923.0 420.3 L925.1 420.0 L911.3 420.0 L913.4 420.3 L911.4 419.9 L914.2 416.1 L912.2 415.7 L915.5 411.9 L913.5 411.5 L917.6 407.7 L915.6 407.3 Z"/><path d="M969.0 391.7 L971.7 395.1 L969.7 395.5 L974.1 399.3 L972.1 399.7 L975.5 403.5 L973.5 403.9 L976.4 407.7 L974.4 408.1 L977.3 411.9 L975.3 412.3 L978.2 416.1 L976.2 416.5 L979.2 420.0 L958.8 420.0 L961.8 416.5 L959.8 416.1 L962.7 412.3 L960.7 411.9 L963.6 408.1 L961.6 407.7 L964.5 403.9 L962.5 403.5 L965.9 399.7 L963.9 399.3 L968.3 395.5 L966.3 395.1 Z"/><path d="M979.4 385.5 L982.2 388.9 L980.2 389.3 L984.6 393.1 L982.6 393.5 L986.1 397.3 L984.1 397.7 L987.1 401.5 L985.1 401.9 L988.0 405.7 L986.0 406.1 L989.0 409.9 L987.0 410.3 L990.0 414.1 L988.0 414.5 L990.9 418.3 L988.9 418.7 L991.4 420.0 L967.4 420.0 L969.9 418.7 L967.9 418.3 L970.8 414.5 L968.8 414.1 L971.8 410.3 L969.8 409.9 L972.8 406.1 L970.8 405.7 L973.7 401.9 L971.7 401.5 L974.7 397.7 L972.7 397.3 L976.2 393.5 L974.2 393.1 L978.6 389.3 L976.6 388.9 Z"/><path d="M992.8 376.1 L995.7 379.5 L993.7 379.9 L998.2 383.7 L996.2 384.1 L999.8 387.9 L997.8 388.3 L1000.8 392.1 L998.8 392.5 L1001.8 396.3 L999.8 396.7 L1002.8 400.5 L1000.8 400.9 L1003.8 404.7 L1001.8 405.1 L1004.8 408.9 L1002.8 409.3 L1005.8 413.1 L1003.8 413.5 L1006.8 417.3 L1004.8 417.7 L1007.6 420.0 L978.0 420.0 L980.8 417.7 L978.8 417.3 L981.8 413.5 L979.8 413.1 L982.8 409.3 L980.8 408.9 L983.8 405.1 L981.8 404.7 L984.8 400.9 L982.8 400.5 L985.8 396.7 L983.8 396.3 L986.8 392.5 L984.8 392.1 L987.8 388.3 L985.8 387.9 L989.4 384.1 L987.4 383.7 L991.9 379.9 L989.9 379.5 Z"/><path d="M1005.5 366.9 L1008.4 370.3 L1006.4 370.7 L1010.9 374.5 L1008.9 374.9 L1012.5 378.7 L1010.5 379.1 L1013.5 382.9 L1011.5 383.3 L1014.5 387.1 L1012.5 387.5 L1015.5 391.3 L1013.5 391.7 L1016.5 395.5 L1014.5 395.9 L1017.5 399.7 L1015.5 400.1 L1018.5 403.9 L1016.5 404.3 L1019.5 408.1 L1017.5 408.5 L1020.5 412.3 L1018.5 412.7 L1021.5 416.5 L1019.5 416.9 L1022.5 420.0 L988.5 420.0 L991.5 416.9 L989.5 416.5 L992.5 412.7 L990.5 412.3 L993.5 408.5 L991.5 408.1 L994.5 404.3 L992.5 403.9 L995.5 400.1 L993.5 399.7 L996.5 395.9 L994.5 395.5 L997.5 391.7 L995.5 391.3 L998.5 387.5 L996.5 387.1 L999.5 383.3 L997.5 382.9 L1000.5 379.1 L998.5 378.7 L1002.1 374.9 L1000.1 374.5 L1004.6 370.7 L1002.6 370.3 Z"/><path d="M1017.6 358.7 L1020.6 362.1 L1018.6 362.5 L1023.2 366.3 L1021.2 366.7 L1024.8 370.5 L1022.8 370.9 L1025.9 374.7 L1023.9 375.1 L1026.9 378.9 L1024.9 379.3 L1028.0 383.1 L1026.0 383.5 L1029.0 387.3 L1027.0 387.7 L1030.1 391.5 L1028.1 391.9 L1031.1 395.7 L1029.1 396.1 L1032.2 399.9 L1030.2 400.3 L1033.2 404.1 L1031.2 404.5 L1034.3 408.3 L1032.3 408.7 L1035.3 412.5 L1033.3 412.9 L1036.4 416.7 L1034.4 417.1 L1037.3 420.0 L997.9 420.0 L1000.8 417.1 L998.8 416.7 L1001.9 412.9 L999.9 412.5 L1002.9 408.7 L1000.9 408.3 L1004.0 404.5 L1002.0 404.1 L1005.0 400.3 L1003.0 399.9 L1006.1 396.1 L1004.1 395.7 L1007.1 391.9 L1005.1 391.5 L1008.2 387.7 L1006.2 387.3 L1009.2 383.5 L1007.2 383.1 L1010.3 379.3 L1008.3 378.9 L1011.3 375.1 L1009.3 374.7 L1012.4 370.9 L1010.4 370.5 L1014.0 366.7 L1012.0 366.3 L1016.6 362.5 L1014.6 362.1 Z"/><path d="M1031.0 362.0 L1033.9 365.4 L1031.9 365.8 L1036.4 369.6 L1034.4 370.0 L1038.0 373.8 L1036.0 374.2 L1039.0 378.0 L1037.0 378.4 L1040.0 382.2 L1038.0 382.6 L1041.0 386.4 L1039.0 386.8 L1042.0 390.6 L1040.0 391.0 L1043.0 394.8 L1041.0 395.2 L1044.0 399.0 L1042.0 399.4 L1045.0 403.2 L1043.0 403.6 L1046.0 407.4 L1044.0 407.8 L1047.0 411.6 L1045.0 412.0 L1048.0 415.8 L1046.0 416.2 L1049.1 420.0 L1047.1 420.4 L1049.2 420.0 L1012.8 420.0 L1014.9 420.4 L1012.9 420.0 L1016.0 416.2 L1014.0 415.8 L1017.0 412.0 L1015.0 411.6 L1018.0 407.8 L1016.0 407.4 L1019.0 403.6 L1017.0 403.2 L1020.0 399.4 L1018.0 399.0 L1021.0 395.2 L1019.0 394.8 L1022.0 391.0 L1020.0 390.6 L1023.0 386.8 L1021.0 386.4 L1024.0 382.6 L1022.0 382.2 L1025.0 378.4 L1023.0 378.0 L1026.0 374.2 L1024.0 373.8 L1027.6 370.0 L1025.6 369.6 L1030.1 365.8 L1028.1 365.4 Z"/><path d="M756 414 L759 409 L764 400 L772 396 L782 388 L795 386 L806 384 L818 380 L830 386 L834 392 L846 392 L858 396 L868 403 L880 412 L890 414 L925 416.5 L962 416.5 L964 412 L972 400 L986 394 L1000 385 L1011 376 L1024 372 L1024 422 L756 422 Z"/></g>
<text x="45.0" y="449.7" font-size="14.6" fill="#cdfcf1" font-weight="normal" textLength="138.0" lengthAdjust="spacingAndGlyphs" stroke="#cdfcf1" stroke-width="0.12">Production et utilisation</text>
<text x="64.0" y="462.8" font-size="14.6" fill="#cdfcf1" font-weight="normal" textLength="102.5" lengthAdjust="spacingAndGlyphs" stroke="#cdfcf1" stroke-width="0.12">d’énergies fossiles</text>
<text x="237.5" y="462.8" font-size="14.6" fill="#cdfcf1" font-weight="normal" textLength="128.5" lengthAdjust="spacingAndGlyphs" stroke="#cdfcf1" stroke-width="0.12">Agriculture et déchets</text>
<text x="439.4" y="462.8" font-size="14.6" fill="#cdfcf1" font-weight="normal" textLength="66.6" lengthAdjust="spacingAndGlyphs" stroke="#cdfcf1" stroke-width="0.12">Combustion</text>
<text x="440.3" y="478.7" font-size="14.6" fill="#cdfcf1" font-weight="normal" textLength="67.7" lengthAdjust="spacingAndGlyphs" stroke="#cdfcf1" stroke-width="0.12">de biomasse</text>
<text x="563.7" y="462.8" font-size="14.6" fill="#cdfcf1" font-weight="normal" textLength="32.8" lengthAdjust="spacingAndGlyphs" stroke="#cdfcf1" stroke-width="0.12">Zones</text>
<text x="557.5" y="478.7" font-size="14.6" fill="#cdfcf1" font-weight="normal" textLength="45.3" lengthAdjust="spacingAndGlyphs" stroke="#cdfcf1" stroke-width="0.12">humides</text>
<text x="629.7" y="462.8" font-size="14.6" fill="#cdfcf1" font-weight="normal" textLength="95.3" lengthAdjust="spacingAndGlyphs" stroke="#cdfcf1" stroke-width="0.12">Autres émissions</text>
<text x="650.6" y="478.7" font-size="14.6" fill="#cdfcf1" font-weight="normal" textLength="56.4" lengthAdjust="spacingAndGlyphs" stroke="#cdfcf1" stroke-width="0.12">naturelles</text>
<text x="613.0" y="495.0" font-size="13" fill="#9ee4d1" font-weight="normal" textLength="131.4" lengthAdjust="spacingAndGlyphs" stroke="#9ee4d1" stroke-width="0.12">Géologique, lacs, termites,</text>
<text x="630.0" y="509.5" font-size="13" fill="#9ee4d1" font-weight="normal" textLength="97.5" lengthAdjust="spacingAndGlyphs" stroke="#9ee4d1" stroke-width="0.12">océans, permafrost</text>
<rect x="53" y="489.7" width="165" height="4.3" fill="#8fe6d6"/>
<text x="53.0" y="512.7" font-size="16.8" fill="#7bd3c2" font-weight="normal" textLength="165.0" lengthAdjust="spacingAndGlyphs" >ÉMISSIONS PAR SOURCE</text>
<text x="53.0" y="527.9" font-size="10.9" fill="#b9efe5" font-weight="normal" textLength="131.6" lengthAdjust="spacingAndGlyphs" >En millions de tonnes de CH</text>
<text x="184.8" y="529.8" font-size="7" fill="#b9efe5" font-weight="normal" textLength="3.8" lengthAdjust="spacingAndGlyphs" >4</text>
<text x="191.6" y="527.9" font-size="10.9" fill="#b9efe5" font-weight="normal" textLength="62.8" lengthAdjust="spacingAndGlyphs" >par an (Tg CH</text>
<text x="254.6" y="529.8" font-size="7" fill="#b9efe5" font-weight="normal" textLength="3.8" lengthAdjust="spacingAndGlyphs" >4</text>
<text x="261.6" y="527.9" font-size="10.9" fill="#b9efe5" font-weight="normal" textLength="118.9" lengthAdjust="spacingAndGlyphs" >/ an), moyenne 2010-2019</text>
<path d="M53.8 540.4 H90.5 L95.4 546.3 L90.5 552.2 H53.8 Z" fill="#e66a30"/>
<text x="100.0" y="550.6" font-size="14" fill="#e8713e" font-weight="normal" textLength="95.6" lengthAdjust="spacingAndGlyphs" stroke="#e8713e" stroke-width="0.12">Flux anthropique</text>
<path d="M229 540.4 H266.3 L271.3 546.3 L266.3 552.2 H229 Z" fill="#5dcf2f"/>
<text x="275.0" y="550.6" font-size="14" fill="#6fd23f" font-weight="normal" textLength="69.0" lengthAdjust="spacingAndGlyphs" stroke="#6fd23f" stroke-width="0.12">Flux naturel</text>
<path d="M373.8 540.4 H409.8 L414.7 546.3 L409.8 552.2 H373.8 Z" fill="url(#stripe2)"/>
<text x="420.6" y="550.6" font-size="14" fill="#bdf3e8" font-weight="normal" textLength="130.4" lengthAdjust="spacingAndGlyphs" stroke="#bdf3e8" stroke-width="0.12">Naturel et anthropique</text>
<text x="746.0" y="545.0" font-size="7.3" fill="#dffcf4" font-weight="bold" textLength="40.2" lengthAdjust="spacing" >GLOBAL</text>
<text x="794.8" y="545.0" font-size="7.3" fill="#dffcf4" font-weight="bold" textLength="43.8" lengthAdjust="spacing" >CARBON</text>
<text x="800.2" y="552.3" font-size="6.2" fill="#dffcf4" font-weight="bold" textLength="37.0" lengthAdjust="spacing" >PROJECT</text>
<path d="M824.6 531.3 A19 19 0 1 0 804.9 559.2 A18.2 18.2 0 1 1 824.6 531.3 Z" fill="url(#gcpg)"/>
<rect x="864.3" y="531" width="25.2" height="25" fill="url(#bnpg)"/>
<g fill="#f2fff8"><polygon points="884.50,532.83 884.52,535.51 887.00,536.53 884.46,537.38 884.25,540.05 882.65,537.90 880.05,538.52 881.60,536.34 880.21,534.06 882.76,534.87"/><polygon points="873.47,537.34 873.82,539.21 875.67,539.62 874.00,540.53 874.18,542.43 872.80,541.12 871.06,541.88 871.88,540.16 870.62,538.73 872.50,538.98"/><polygon points="869.40,545.30 869.97,546.82 871.59,546.89 870.32,547.90 870.75,549.46 869.40,548.57 868.05,549.46 868.48,547.90 867.21,546.89 868.83,546.82"/><polygon points="875.95,549.21 876.82,550.23 878.10,549.83 877.40,550.97 878.18,552.06 876.87,551.75 876.08,552.83 875.97,551.49 874.70,551.07 875.94,550.55"/></g>
<path d="M880 539 Q874 541 871.6 546" fill="none" stroke="#f2fff8" stroke-width="0.9" opacity="0.7"/>
<text x="894.5" y="541.9" font-size="11.5" fill="#f4fffb" font-weight="bold" textLength="45.5" lengthAdjust="spacingAndGlyphs" >FONDA</text>
<text x="894.5" y="552.8" font-size="11.5" fill="#f4fffb" font-weight="bold" textLength="45.5" lengthAdjust="spacingAndGlyphs" >BNP PA</text>
<rect x="870.7" y="436.8" width="117.8" height="59" fill="#ffffff"/>
<text x="885.2" y="463.9" font-size="18.7" fill="#111" font-weight="normal" textLength="88.0" lengthAdjust="spacingAndGlyphs" stroke="#111" stroke-width="0.55">ÉLÉMENT</text>
<text x="886.4" y="485.7" font-size="23.2" fill="#0a0a0a" font-weight="bold" textLength="86.6" lengthAdjust="spacingAndGlyphs" stroke="#0a0a0a" stroke-width="1.9" stroke-linejoin="miter">TERRE</text>
<rect x="935.8" y="504.5" width="52.4" height="53.1" fill="#2ea6de"/>

<text x="941.4" y="518.5" font-size="9.6" fill="#ffffff" font-weight="bold" textLength="40.6" lengthAdjust="spacingAndGlyphs" stroke="#fff" stroke-width="0.45">FRANCE</text>
<text x="941.2" y="532.4" font-size="16.2" fill="#ffffff" font-weight="bold" textLength="20.8" lengthAdjust="spacingAndGlyphs" stroke="#fff" stroke-width="0.45">24</text>
<g fill="none" stroke="#ffffff" clip-path="url(#f24clip)"><g transform="rotate(-12 967 539)"><ellipse cx="967.5" cy="536.8" rx="8" ry="2.7" stroke-width="1.5"/><ellipse cx="967" cy="539.4" rx="15.5" ry="5.6" stroke-width="1.8"/><path d="M943 541.5 A24 8.8 0 0 0 991 541.5 A24 8.8 0 0 0 985 536.5" stroke-width="2"/><path d="M934 544 A33 12.5 0 0 0 1000 544" stroke-width="2.3"/></g></g>
</svg></body></html>
